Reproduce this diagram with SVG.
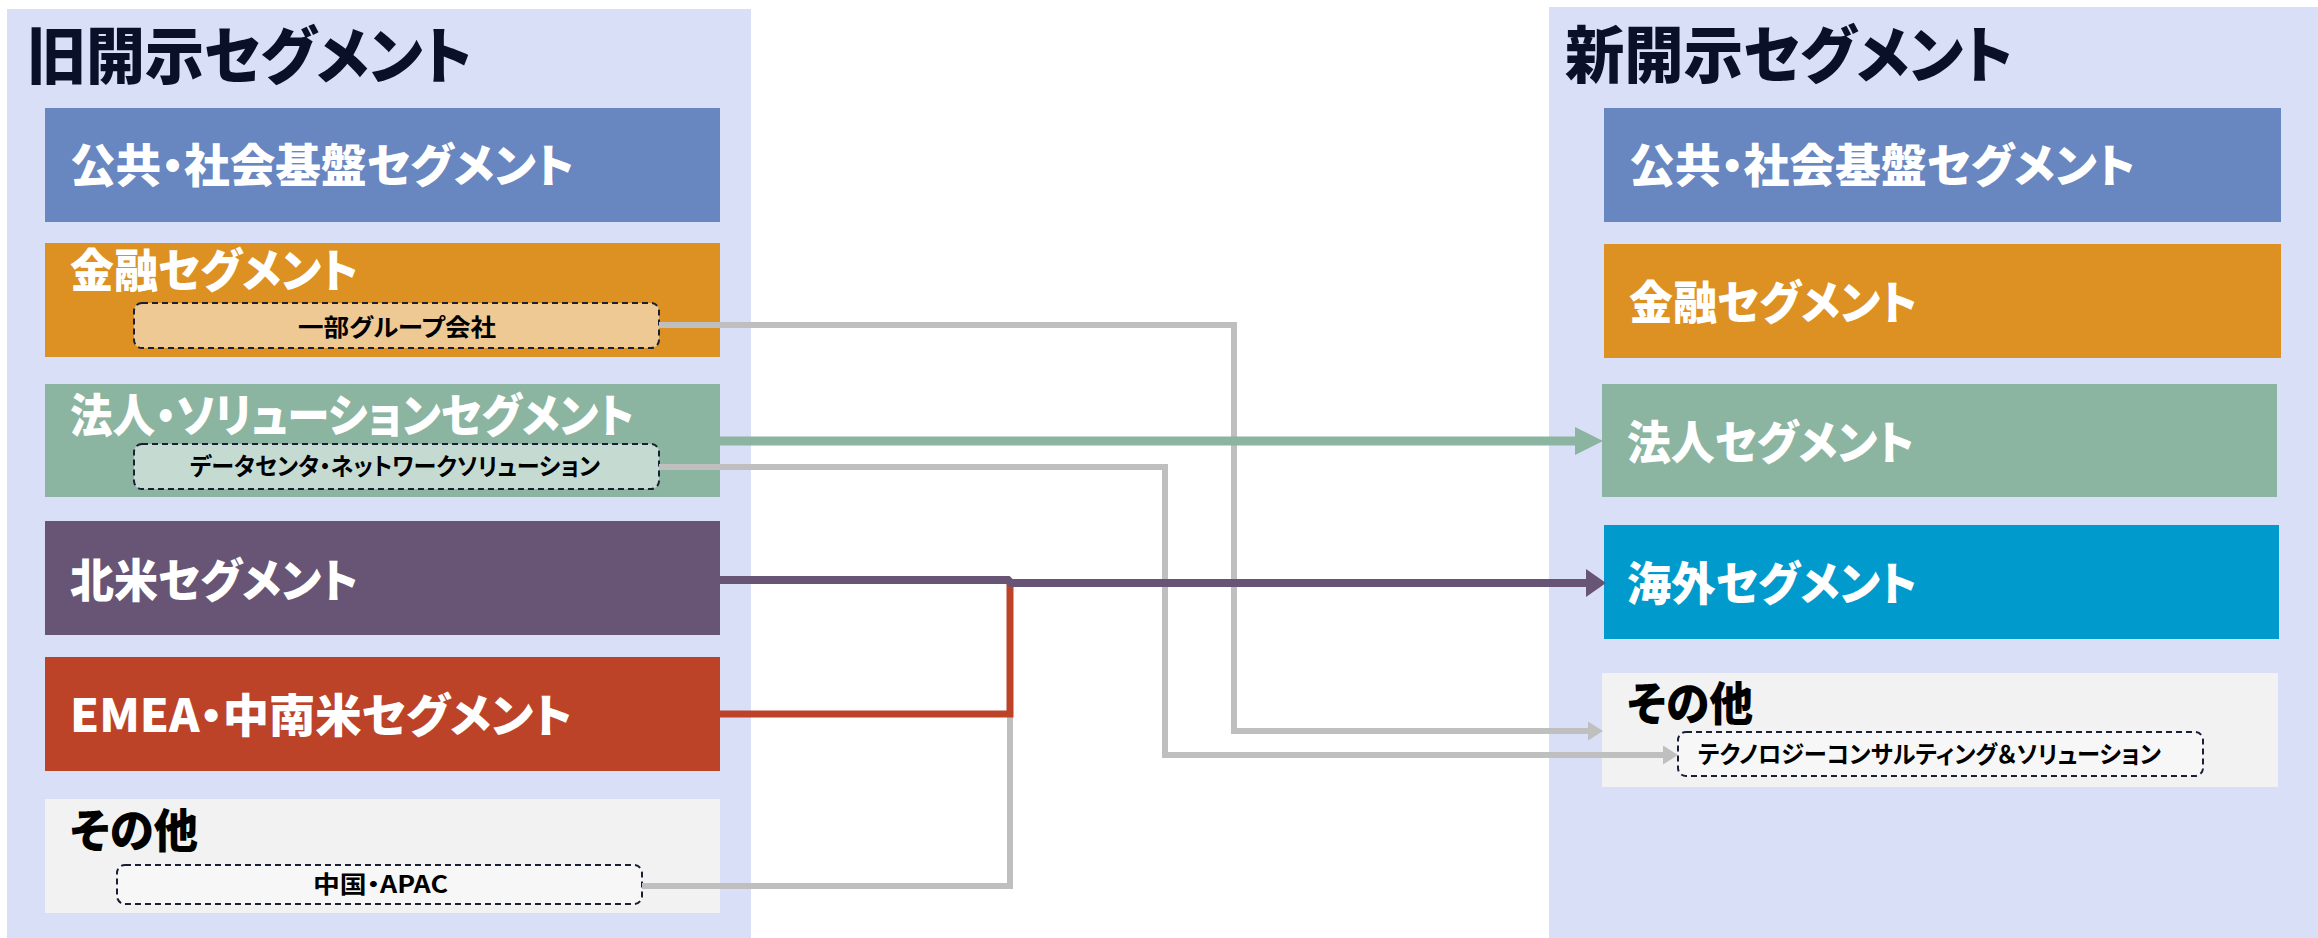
<svg xmlns="http://www.w3.org/2000/svg" width="2318" height="938" viewBox="0 0 2318 938">
<style>
.panel{fill:#D9DFF7}
.t{font-family:"Noto Sans CJK JP","Noto Sans",sans-serif;font-weight:900;font-feature-settings:"palt" 1}
.title{font-size:62px;fill:#0B1029}
.seg{font-size:46px;fill:#FFFFFF}
.dark{fill:#000000}
.sub{font-size:24px;fill:#000000;font-weight:700}
.dash{stroke:#1A1F36;stroke-width:2;stroke-dasharray:6 4}
.conn{fill:none;stroke-linejoin:miter}
</style>
<defs>
<marker id="ahGreen" markerUnits="userSpaceOnUse" markerWidth="28" markerHeight="28" refX="0" refY="14" orient="auto"><path d="M0,0 L28,14 L0,28 Z" fill="#8BB5A0"/></marker>
<marker id="ahPurple" markerUnits="userSpaceOnUse" markerWidth="20" markerHeight="28" refX="0" refY="14" orient="auto"><path d="M0,0 L20,14 L0,28 Z" fill="#685576"/></marker>
<marker id="ahGray" markerUnits="userSpaceOnUse" markerWidth="15" markerHeight="19" refX="0" refY="9.5" orient="auto"><path d="M0,0 L15,9.5 L0,19 Z" fill="#BFBFBF"/></marker>
</defs>
<rect width="2318" height="938" fill="#FFFFFF"/>

<g id="old-panel">
<rect class="panel" x="7" y="9" width="744" height="929"/>
<text class="t title" x="27" y="79" textLength="445" lengthAdjust="spacingAndGlyphs">旧開示セグメント</text>
</g>
<g id="new-panel">
<rect class="panel" x="1549" y="7" width="769" height="931"/>
<text class="t title" x="1565" y="78" textLength="448" lengthAdjust="spacingAndGlyphs">新開示セグメント</text>
</g>

<g id="old-public">
<rect x="45" y="108" width="675" height="114" fill="#6886C0"/>
<text class="t seg" x="70" y="182" textLength="504" lengthAdjust="spacingAndGlyphs">公共・社会基盤セグメント</text>
</g>
<g id="old-finance">
<rect x="45" y="243" width="675" height="114" fill="#DC9122"/>
<text class="t seg" x="70" y="287" textLength="288" lengthAdjust="spacingAndGlyphs">金融セグメント</text>
<rect class="dash" x="134" y="303" width="525" height="45" rx="8" fill="#EFC994"/>
<text class="t sub" x="298" y="336" textLength="198" lengthAdjust="spacingAndGlyphs">一部グループ会社</text>
</g>
<g id="old-corporate">
<rect x="45" y="384" width="675" height="113" fill="#8BB5A0"/>
<text class="t seg" x="70" y="432" textLength="564" lengthAdjust="spacingAndGlyphs">法人・ソリューションセグメント</text>
<rect class="dash" x="134" y="444" width="525" height="45" rx="8" fill="#C5DBD2"/>
<text class="t sub" x="190" y="475" textLength="410" lengthAdjust="spacingAndGlyphs">データセンタ・ネットワークソリューション</text>
</g>
<g id="old-northamerica">
<rect x="45" y="521" width="675" height="114" fill="#685576"/>
<text class="t seg" x="70" y="597" textLength="288" lengthAdjust="spacingAndGlyphs">北米セグメント</text>
</g>
<g id="old-emea">
<rect x="45" y="657" width="675" height="114" fill="#BC4328"/>
<text class="t seg" x="70" y="732" textLength="502" lengthAdjust="spacingAndGlyphs">EMEA・中南米セグメント</text>
</g>
<g id="old-other">
<rect x="45" y="799" width="675" height="114" fill="#F2F2F2"/>
<text class="t seg dark" x="70" y="847" textLength="128" lengthAdjust="spacingAndGlyphs">その他</text>
<rect class="dash" x="117" y="865" width="525" height="39" rx="8" fill="#F7F7F7"/>
<text class="t sub" x="313" y="893" textLength="135" lengthAdjust="spacingAndGlyphs">中国・APAC</text>
</g>

<g id="new-public">
<rect x="1604" y="108" width="677" height="114" fill="#6886C0"/>
<text class="t seg" x="1629" y="182" textLength="506" lengthAdjust="spacingAndGlyphs">公共・社会基盤セグメント</text>
</g>
<g id="new-finance">
<rect x="1604" y="244" width="677" height="114" fill="#DC9122"/>
<text class="t seg" x="1629" y="319" textLength="288" lengthAdjust="spacingAndGlyphs">金融セグメント</text>
</g>
<g id="new-corporate">
<rect x="1602" y="384" width="675" height="113" fill="#8BB5A0"/>
<text class="t seg" x="1627" y="459" textLength="287" lengthAdjust="spacingAndGlyphs">法人セグメント</text>
</g>
<g id="new-overseas">
<rect x="1604" y="525" width="675" height="114" fill="#009ACD"/>
<text class="t seg" x="1627" y="600" textLength="290" lengthAdjust="spacingAndGlyphs">海外セグメント</text>
</g>
<g id="new-other">
<rect x="1602" y="673" width="676" height="114" fill="#F2F2F2"/>
<text class="t seg dark" x="1627" y="720" textLength="126" lengthAdjust="spacingAndGlyphs">その他</text>
<rect class="dash" x="1678" y="732" width="525" height="44" rx="8" fill="#F7F7F7"/>
<text class="t sub" x="1698" y="763" textLength="463" lengthAdjust="spacingAndGlyphs">テクノロジーコンサルティング＆ソリューション</text>
</g>

<g id="connectors">
<path class="conn" d="M642,886 H1010 V714" stroke="#BFBFBF" stroke-width="6"/>
<path class="conn" d="M659,325 H1234 V731 H1588" stroke="#BFBFBF" stroke-width="6" marker-end="url(#ahGray)"/>
<path class="conn" d="M659,467 H1165 V755 H1663" stroke="#BFBFBF" stroke-width="6" marker-end="url(#ahGray)"/>
<path class="conn" d="M720,441 H1575" stroke="#8BB5A0" stroke-width="9" marker-end="url(#ahGreen)"/>
<path class="conn" d="M720,714 H1010 V583" stroke="#BC4328" stroke-width="7"/>
<path class="conn" d="M720,580 H1008 L1011,583 H1586" stroke="#685576" stroke-width="8" marker-end="url(#ahPurple)"/>
</g>
</svg>
